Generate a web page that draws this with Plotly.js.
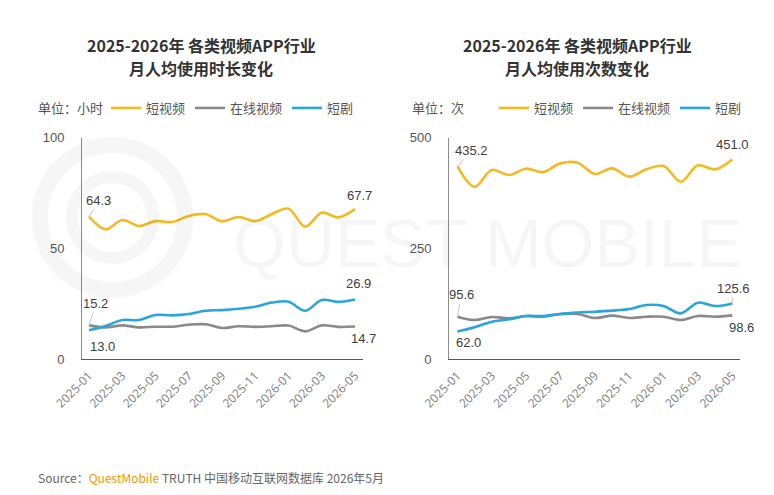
<!DOCTYPE html>
<html><head><meta charset="utf-8">
<script src="https://cdn.plot.ly/plotly-3.0.1.min.js"></script>
<style>html,body{margin:0;padding:0;background:#fff}#c{width:774px;height:495px}</style>
</head><body><div id="c"></div>
<script>
const months = ['2025-01','2025-02','2025-03','2025-04','2025-05','2025-06','2025-07','2025-08','2025-09','2025-10','2025-11','2025-12','2026-01','2026-02','2026-03','2026-04','2026-05'];
const tickMonths = ['2025-01','2025-03','2025-05','2025-07','2025-09','2025-11','2026-01','2026-03','2026-05'];
const seriesNames = ['短视频','在线视频','短剧'];
const seriesColors = ['#F5BA22','#8A8A8A','#2AA5DC'];

// 月人均使用时长（小时）
const durShortVideo = [64.3,58.6,62.8,60.1,62.3,61.9,64.6,65.5,62.2,64.2,62.3,65.5,67.9,59.8,66.1,64.0,67.7];
const durOnlineVideo = [15.2,14.3,15.2,14.3,14.6,14.6,15.5,15.7,14.0,14.8,14.5,14.8,15.1,12.5,15.2,14.5,14.7];
const durShortDrama = [13.0,14.9,17.6,17.6,19.9,19.7,20.3,21.8,22.1,22.7,23.6,25.5,25.9,21.8,26.7,25.8,26.9];

// 月人均使用次数（次）
const cntShortVideo = [435.2,389.3,427.0,415.7,430.0,422.4,442.0,443.5,418.0,430.7,412.0,428.5,436.0,400.6,437.5,428.5,451.0];
const cntOnlineVideo = [95.6,88.1,94.9,91.9,97.1,95.6,101.7,101.7,92.6,97.9,92.6,95.6,95.6,88.1,97.1,95.6,98.6];
const cntShortDrama = [62.0,71.5,84.3,89.6,97.1,97.1,101.7,104.7,106.9,109.2,113.0,122.0,119.7,103.2,127.3,119.7,125.6];

const leftData = [durShortVideo, durOnlineVideo, durShortDrama];
const rightData = [cntShortVideo, cntOnlineVideo, cntShortDrama];

const FONT = '"Noto Sans CJK SC", "Noto Sans", sans-serif';
const NUMFONT = '"Liberation Sans", Arial, sans-serif';

const traces = [];
leftData.forEach((d,i)=>traces.push({x:months,y:d,type:'scatter',mode:'lines',name:seriesNames[i],
  line:{color:seriesColors[i],width:2.6,shape:'spline',smoothing:1},xaxis:'x',yaxis:'y',legend:'legend',hoverinfo:'skip'}));
rightData.forEach((d,i)=>traces.push({x:months,y:d,type:'scatter',mode:'lines',name:seriesNames[i],
  line:{color:seriesColors[i],width:2.6,shape:'spline',smoothing:1},xaxis:'x2',yaxis:'y2',legend:'legend2',hoverinfo:'skip'}));

const last = months.length-1;
function lab(xref,yref,xi,val,ax,ay,line){
  return {xref:xref,yref:yref,x:months[xi],y:val,text:val.toFixed(1),showarrow:true,arrowhead:0,arrowwidth:1,
    arrowcolor: line ? '#C8C8C8' : 'rgba(0,0,0,0)',ax:ax,ay:ay,standoff:0,startstandoff:0,
    font:{family:NUMFONT,size:13,color:'#404040'}};
}
function title(x,y,t){
  return {xref:'paper',yref:'paper',x:x/774,y:1-y/495,xanchor:'center',yanchor:'middle',text:'<b>'+t+'</b>',showarrow:false,
    font:{family:FONT,size:16,color:'#333'}};
}

const annotations = [
  // watermark
  {xref:'paper',yref:'paper',x:487/774,y:1-243/495,xanchor:'center',yanchor:'middle',text:'QUEST MOBILE',showarrow:false,
    font:{family:'"Liberation Sans", sans-serif',size:68,color:'rgba(0,0,0,0.035)'}},
  // titles
  title(201,45,'2025-2026年 各类视频APP行业'),
  title(201,68,'月人均使用时长变化'),
  title(577,45,'2025-2026年 各类视频APP行业'),
  title(577,68,'月人均使用次数变化'),
  // unit labels
  {xref:'paper',yref:'paper',x:36/774,y:1-108/495,xanchor:'left',yanchor:'middle',text:'单位：小时',showarrow:false,font:{family:FONT,size:13,color:'#555'}},
  {xref:'paper',yref:'paper',x:410/774,y:1-108/495,xanchor:'left',yanchor:'middle',text:'单位：次',showarrow:false,font:{family:FONT,size:13,color:'#555'}},
  // source
  {xref:'paper',yref:'paper',x:36/774,y:1-477/495,xanchor:'left',yanchor:'middle',showarrow:false,
    text:'Source：<span style="color:#F39800">QuestMobile</span> TRUTH 中国移动互联网数据库 2026年5月',font:{family:FONT,size:12,color:'#666'}},
  // data labels left
  lab('x','y',0,durShortVideo[0],10,-16,true),
  lab('x','y',last,durShortVideo[last],4,-14,false),
  lab('x','y',0,durOnlineVideo[0],7,-22,true),
  lab('x','y',0,durShortDrama[0],14,16,false),
  lab('x','y',last,durShortDrama[last],3,-16,false),
  lab('x','y',last,durOnlineVideo[last],8,12,false),
  // data labels right
  lab('x2','y2',0,cntShortVideo[0],14,-16,true),
  lab('x2','y2',0,cntOnlineVideo[0],4,-22,true),
  lab('x2','y2',0,cntShortDrama[0],11,11,false),
  lab('x2','y2',last,cntShortVideo[last],0,-15,false),
  lab('x2','y2',last,cntShortDrama[last],1,-15,true),
  lab('x2','y2',last,cntOnlineVideo[last],9,12,false)
];

const xBase = {type:'category',categoryorder:'array',categoryarray:months,tickmode:'array',tickvals:tickMonths,ticktext:tickMonths,
  tickangle:-45,showgrid:false,zeroline:false,showline:true,linecolor:'#595959',linewidth:1,ticks:'outside',ticklen:4,tickcolor:'rgba(0,0,0,0)',
  tickfont:{family:'"Open Sans", sans-serif',size:12,color:'#808080'},fixedrange:true};
const yBase = {showgrid:false,zeroline:false,showline:true,linecolor:'#8C8C8C',linewidth:1,ticks:'outside',ticklen:14,tickcolor:'rgba(0,0,0,0)',
  tickfont:{family:NUMFONT,size:13,color:'#555'},fixedrange:true};

const legendBase = {orientation:'h',xanchor:'left',yanchor:'middle',bgcolor:'rgba(0,0,0,0)',
    font:{family:FONT,size:13,color:'#555'},itemwidth:30,tracegroupgap:0};

const layout = {
  width:774,height:495,margin:{l:0,r:0,t:0,b:0},paper_bgcolor:'#fff',plot_bgcolor:'rgba(0,0,0,0)',showlegend:true,
  xaxis:Object.assign({},xBase,{domain:[82/774,363/774],range:[-0.42,16.48],anchor:'y'}),
  yaxis:Object.assign({},yBase,{domain:[1-359/495,1-137.7/495],range:[0,100],tickvals:[0,50,100],anchor:'x'}),
  xaxis2:Object.assign({},xBase,{domain:[449/774,740/774],range:[-0.49,16.45],anchor:'y2'}),
  yaxis2:Object.assign({},yBase,{domain:[1-359/495,1-137.7/495],range:[0,500],tickvals:[0,250,500],anchor:'x2'}),
  legend:Object.assign({},legendBase,{x:106/774,y:1-108/495}),
  legend2:Object.assign({},legendBase,{x:494/774,y:1-108/495}),
  shapes:[
    {type:'circle',xref:'paper',yref:'paper',x0:40/774,x1:185/774,y0:1-290/495,y1:1-145/495,line:{color:'rgba(0,0,0,0.035)',width:16}},
    {type:'circle',xref:'paper',yref:'paper',x0:72/774,x1:153/774,y0:1-258/495,y1:1-177/495,line:{color:'rgba(0,0,0,0.035)',width:12}}
  ],
  annotations:annotations
};
Plotly.newPlot('c',traces,layout,{displayModeBar:false,staticPlot:true});
</script></body></html>
